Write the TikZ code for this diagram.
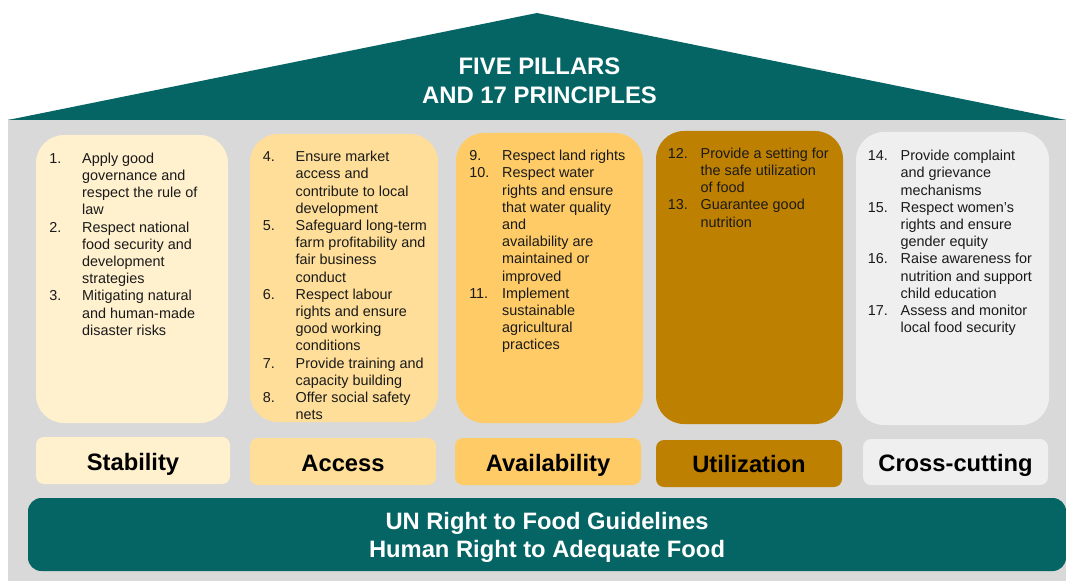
\documentclass[tikz,border=0pt]{standalone}
\usepackage{fontspec}
\setmainfont{Liberation Sans}

\definecolor{roofteal}{HTML}{056565}
\definecolor{bggrey}{HTML}{D9D9D9}
\definecolor{stabfill}{HTML}{FFF0CE}
\definecolor{accfill}{HTML}{FEDE98}
\definecolor{availfill}{HTML}{FECB66}
\definecolor{utilfill}{HTML}{BE8000}
\definecolor{crossfill}{HTML}{EFEFEF}
\definecolor{bodytext}{HTML}{1A1A1A}

% number column and continuation indent
\newcommand{\pn}[1]{\makebox[24.7pt][l]{#1}}
\newcommand{\pc}{\hspace*{24.7pt}}

\begin{document}
\begin{tikzpicture}[x=0.75pt,y=-0.75pt,
    pillar/.style={rounded corners=21pt},
    tagbox/.style={rounded corners=6pt},
    items/.style={anchor=north west,align=left,inner sep=0pt,text=bodytext,
        font=\fontsize{10.8}{12.9}\selectfont},
    tagtext/.style={anchor=base,inner sep=0pt,font=\fontsize{17.8}{22}\selectfont\bfseries}]

    \useasboundingbox (0,0) rectangle (1066,581);

    % house
    \fill[bggrey] (8,119) rectangle (1066,581);
    \fill[roofteal] (8,120) -- (537,13) -- (1066,120) -- cycle;
    \node[white,align=center,font=\fontsize{17.9}{22}\selectfont\bfseries] (roof) at (539.5,81)
        {FIVE PILLARS\\AND 17 PRINCIPLES};

    % pillars
    \fill[pillar,stabfill] (36,135) rectangle (228,423);
    \fill[pillar,accfill] (250,134) rectangle (438,422);
    \fill[pillar,availfill] (456,133) rectangle (643,423);
    \fill[pillar,utilfill] (656,131) rectangle (843,424);
    \fill[pillar,crossfill] (856,132) rectangle (1049,425);

    \node[items] (stabitems) at (49,152.5) {%
        \pn{1.}Apply good\\ \pc governance and\\ \pc respect the rule of\\ \pc law\\
        \pn{2.}Respect national\\ \pc food security and\\ \pc development\\ \pc strategies\\
        \pn{3.}Mitigating natural\\ \pc and human-made\\ \pc disaster risks};

    \node[items] (accitems) at (262.5,151) {%
        \pn{4.}Ensure market\\ \pc access and\\ \pc contribute to local\\ \pc development\\
        \pn{5.}Safeguard long-term\\ \pc farm profitability and\\ \pc fair business\\ \pc conduct\\
        \pn{6.}Respect labour\\ \pc rights and ensure\\ \pc good working\\ \pc conditions\\
        \pn{7.}Provide training and\\ \pc capacity building\\
        \pn{8.}Offer social safety\\ \pc nets};

    \node[items] (availitems) at (469,150) {%
        \pn{9.}Respect land rights\\
        \pn{10.}Respect water\\ \pc rights and ensure\\ \pc that water quality\\ \pc and\\
        \pc availability are\\ \pc maintained or\\ \pc improved\\
        \pn{11.}Implement\\ \pc sustainable\\ \pc agricultural\\ \pc practices};

    \node[items] (utilitems) at (667.5,147.5) {%
        \pn{12.}Provide a setting for\\ \pc the safe utilization\\ \pc of food\\
        \pn{13.}Guarantee good\\ \pc nutrition};

    \node[items] (crossitems) at (867.5,150) {%
        \pn{14.}Provide complaint\\ \pc and grievance\\ \pc mechanisms\\
        \pn{15.}Respect women’s\\ \pc rights and ensure\\ \pc gender equity\\
        \pn{16.}Raise awareness for\\ \pc nutrition and support\\ \pc child education\\
        \pn{17.}Assess and monitor\\ \pc local food security};

    % pillar names
    \fill[tagbox,stabfill] (36,437) rectangle (230,484);
    \fill[tagbox,accfill] (250,438) rectangle (436,485);
    \fill[tagbox,availfill] (455,438) rectangle (641,485);
    \fill[tagbox,utilfill] (656,440) rectangle (842,487);
    \fill[tagbox,crossfill] (863,439) rectangle (1048,485);

    \node[tagtext] (stab) at (133,470) {Stability};
    \node[tagtext] (acc) at (343,471) {Access};
    \node[tagtext] (avail) at (548,471.5) {Availability};
    \node[tagtext] (util) at (749,472.5) {Utilization};
    \node[tagtext] (cross) at (955.5,471.5) {Cross-cutting};

    % foundation
    \fill[roofteal,rounded corners=10pt] (28,498) rectangle (1066,571);
    \node[white,align=center,font=\fontsize{17.8}{21.5}\selectfont\bfseries] (base) at (547,537.5)
        {UN Right to Food Guidelines\\Human Right to Adequate Food};

\end{tikzpicture}
\end{document}
